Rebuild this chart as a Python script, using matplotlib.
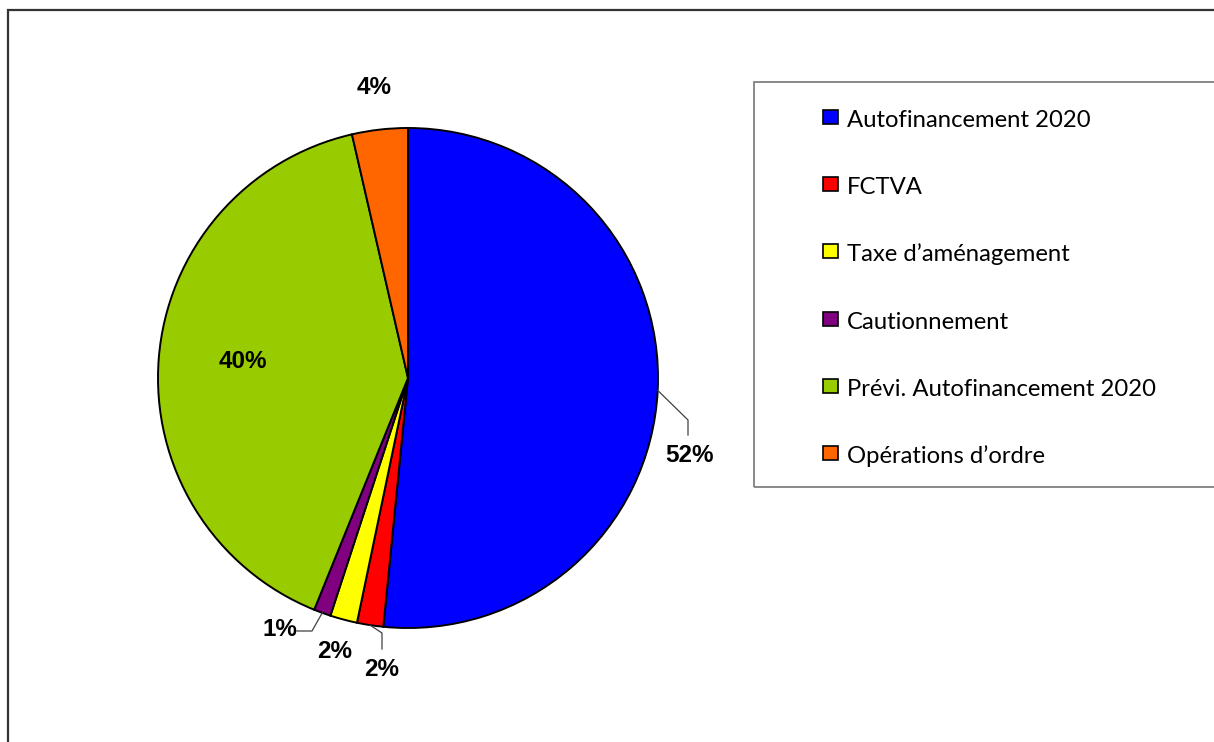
import matplotlib
matplotlib.use("Agg")
import matplotlib.pyplot as plt
from matplotlib.patches import Rectangle
import numpy as np

# ---- data ----
categories = ["Autofinancement 2020", "FCTVA", "Taxe d\u2019aménagement",
              "Cautionnement", "Prévi. Autofinancement 2020", "Opérations d\u2019ordre"]
values = [51.6, 1.7, 1.75, 1.1, 40.3, 3.6]
pct_labels = ["52%", "2%", "2%", "1%", "40%", "4%"]

# ---- styles / positions ----
colors = ["#0000FF", "#FF0000", "#FFFF00", "#800080", "#99CC00", "#FF6600"]
W, H = 1214, 742
center_px = (408, 378)
radius_px = 250
label_px = [(690, 456), (382, 670), (335, 651), (280, 630), (243, 362), (374, 87)]
# leader lines: (label index, elbow point, end point) in pixels
leaders = [(0, (688, 420), (688, 435)),
           (1, (382, 633), (382, 649)),
           (3, (312, 631), (297, 631))]

def d(x, y):
    return x, H - y

fig = plt.figure(figsize=(W / 100, H / 100), dpi=100)
ax = fig.add_axes([0, 0, 1, 1])

cx, cy = d(*center_px)
wedges, _ = ax.pie(values, colors=colors, startangle=90, counterclock=False,
                   center=(cx, cy), radius=radius_px,
                   wedgeprops=dict(edgecolor="black", linewidth=1.4))
ax.set_xlim(0, W)
ax.set_ylim(0, H)
ax.set_aspect("auto")
ax.axis("off")

for lab, (lx, ly) in zip(pct_labels, label_px):
    ax.text(*d(lx, ly), lab, ha="center", va="center", fontsize=17.5,
            fontweight="bold", family="Liberation Sans", color="black")

for idx, elbow, end in leaders:
    w = wedges[idx]
    mid = np.deg2rad((w.theta1 + w.theta2) / 2)
    sx, sy = cx + radius_px * np.cos(mid), cy + radius_px * np.sin(mid)
    ex, ey = d(*elbow)
    fx, fy = d(*end)
    ax.plot([sx, ex, fx], [sy, ey, fy], color="#404040", lw=0.9)

# legend box
lx0, ly0, ly1 = 754, 82, 487
ax.add_patch(Rectangle(d(lx0, ly1), W + 20 - lx0, ly1 - ly0, fill=False,
                       edgecolor="#808080", lw=1.3, clip_on=False))
row0, step = 117, 67.2
for i, (cat, col) in enumerate(zip(categories, colors)):
    yc = row0 + step * i
    ax.add_patch(Rectangle(d(823, yc + 7), 15, 14, facecolor=col,
                           edgecolor="black", lw=1.2))
    ax.text(*d(847, yc + 10), cat, ha="left", va="baseline", fontsize=17.2,
            family="Lato", color="black")

# outer frame
ax.add_patch(Rectangle(d(8, H + 20), W + 20, H + 10, fill=False,
                       edgecolor="#333333", lw=1.6, clip_on=False))

fig.savefig("out.png", dpi=100)
